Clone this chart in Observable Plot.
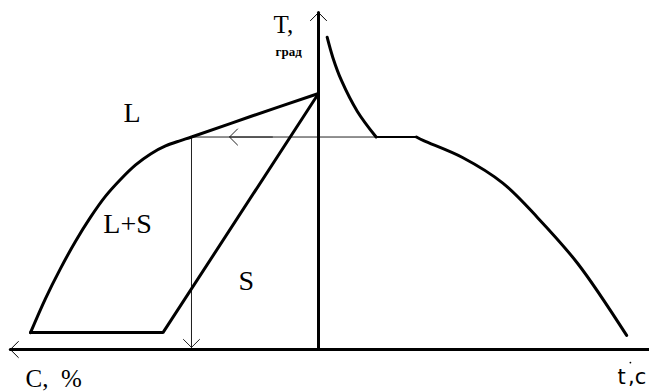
<!DOCTYPE html>
<html>
<head>
<meta charset="utf-8">
<script src="https://cdn.jsdelivr.net/npm/d3@7"></script>
<script src="https://cdn.jsdelivr.net/npm/@observablehq/plot@0.6"></script>
<style>
  html, body { margin: 0; padding: 0; background: #fff; }
  #chart svg { display: block; }
</style>
</head>
<body>
<div id="chart"></div>
<script>
// Phase diagram (left, concentration C % plotted leftward from the T axis)
const liquidusC = [100, 94.8, 89.6, 84.4, 79.2, 74, 68.75, 63.5, 58.3, 53.1, 47.9, 44.1, 23.6, 0];
const liquidusT = [6.6, 19.9, 31.6, 42.2, 51.6, 59.8, 66.4, 72.1, 76.4, 79.5, 81.6, 83, 91, 100];
const solidusC = [100, 54, 0];
const solidusT = [6.6, 6.6, 100];
const tieC = 44.1;        // concentration of the tie point
const tieT = 83;          // crystallisation temperature
// Cooling curve (right, time t)
const liquidCoolTime = [3, 5, 8, 13.5, 20];
const liquidCoolT = [122, 114, 105, 93, 83];
const plateauTime = [20, 34];
const solidCoolTime = [34, 36.5, 50, 64, 76, 90, 107];
const solidCoolT = [83, 81.6, 75, 65, 51.6, 33.6, 5.5];
// Axis extents
const axisTmax = 131.6;
const axisCmax = 107;
const axisTimeMax = 115;
// Texts
const phaseLabels = ["L", "L+S", "S"];
const axisLabelT = "T,";
const axisUnitT = "град";
const axisLabelC = "C,\u00A0\u00A0%";
const axisLabelTime = "t";
const axisLabelTimeUnit = ",c";

const zip = (xs, ys) => xs.map((v, i) => ({x: v, y: ys[i]}));
const liquidus = zip(liquidusC.map(c => -c), liquidusT);
const solidus = zip(solidusC.map(c => -c), solidusT);
const liquidCool = zip(liquidCoolTime, liquidCoolT);
const solidCool = zip(solidCoolTime, solidCoolT);

const serif = "Liberation Serif, Times New Roman, serif";
const sans = "DejaVu Sans, sans-serif";
const arrowOpts = {x1: "x1", y1: "y1", x2: "x2", y2: "y2", headLength: 17, headAngle: 90, strokeWidth: 1};

const chart = Plot.plot({
  width: 649,
  height: 392,
  margin: 0,
  style: {background: "#fff"},
  x: {domain: [-318 / 2.88, 331 / 2.88], range: [0, 649], axis: null},
  y: {domain: [-43 / 2.56, 349 / 2.56], range: [392, 0], axis: null},
  marks: [
    // thin tie line and vertical projection
    Plot.line([{x: -tieC, y: tieT}, {x: plateauTime[0], y: tieT}], {x: "x", y: "y", stroke: "#222", strokeWidth: 1}),
    Plot.line([{x: -tieC, y: tieT}, {x: -tieC, y: 0}], {x: "x", y: "y", stroke: "#222", strokeWidth: 1}),
    Plot.arrow([{x1: -tieC, y1: 18, x2: -tieC, y2: 0.8}], {...arrowOpts, stroke: "#222"}),
    Plot.arrow([{x1: -16, y1: tieT, x2: -30.9, y2: tieT}], {...arrowOpts, stroke: "#222"}),
    // axes
    Plot.line([{x: -axisCmax, y: 0}, {x: axisTimeMax, y: 0}], {x: "x", y: "y", stroke: "#000", strokeWidth: 3}),
    Plot.line([{x: 0, y: 0}, {x: 0, y: axisTmax}], {x: "x", y: "y", stroke: "#000", strokeWidth: 3}),
    Plot.arrow([{x1: 0, y1: axisTmax - 20, x2: 0, y2: axisTmax}], {...arrowOpts, stroke: "#000"}),
    Plot.arrow([{x1: -axisCmax + 18, y1: 0, x2: -axisCmax, y2: 0}], {...arrowOpts, stroke: "#000"}),
    // phase diagram
    Plot.line(liquidus, {x: "x", y: "y", curve: "catmull-rom", stroke: "#000", strokeWidth: 3}),
    Plot.line(solidus, {x: "x", y: "y", stroke: "#000", strokeWidth: 3, strokeLinejoin: "miter"}),
    // cooling curve
    Plot.line(liquidCool, {x: "x", y: "y", curve: "catmull-rom", stroke: "#000", strokeWidth: 3}),
    Plot.line(plateauTime.map(t => ({x: t, y: tieT})), {x: "x", y: "y", stroke: "#000", strokeWidth: 2}),
    Plot.line(solidCool, {x: "x", y: "y", curve: "catmull-rom", stroke: "#000", strokeWidth: 3}),
    // labels
    Plot.text([phaseLabels[0]], {x: -67.7, y: 88.7, text: d => d, textAnchor: "start", lineAnchor: "bottom", fontSize: 28, fontFamily: serif, fill: "#000"}),
    Plot.text([phaseLabels[1]], {x: -74.7, y: 45.7, text: d => d, textAnchor: "start", lineAnchor: "bottom", fontSize: 28, fontFamily: serif, fill: "#000"}),
    Plot.text([phaseLabels[2]], {x: -27.8, y: 23.4, text: d => d, textAnchor: "start", lineAnchor: "bottom", fontSize: 28, fontFamily: serif, fill: "#000"}),
    Plot.text([axisLabelC], {x: -101.7, y: -14.5, text: d => d, textAnchor: "start", lineAnchor: "bottom", fontSize: 25, fontFamily: serif, fill: "#000"}),
    Plot.text([axisLabelT], {x: -15.6, y: 123.8, text: d => d, textAnchor: "start", lineAnchor: "bottom", fontSize: 25, fontFamily: serif, fill: "#000"}),
    Plot.text([axisUnitT], {x: -14.9, y: 114.8, text: d => d, textAnchor: "start", lineAnchor: "bottom", fontSize: 13, fontWeight: "bold", fontFamily: serif, fill: "#000"}),
    Plot.text([axisLabelTime], {x: 103.8, y: -13.3, text: d => d, textAnchor: "start", lineAnchor: "bottom", fontSize: 21, fontFamily: sans, fill: "#000"}),
    Plot.dot([0], {x: 108.3, y: -5.1, r: 0.9, fill: "#000", stroke: null}),
    Plot.text([axisLabelTimeUnit], {x: 107.5, y: -13.3, text: d => d, textAnchor: "start", lineAnchor: "bottom", fontSize: 21, fontFamily: sans, fill: "#000"})
  ]
});
document.getElementById("chart").appendChild(chart);
</script>
</body>
</html>
